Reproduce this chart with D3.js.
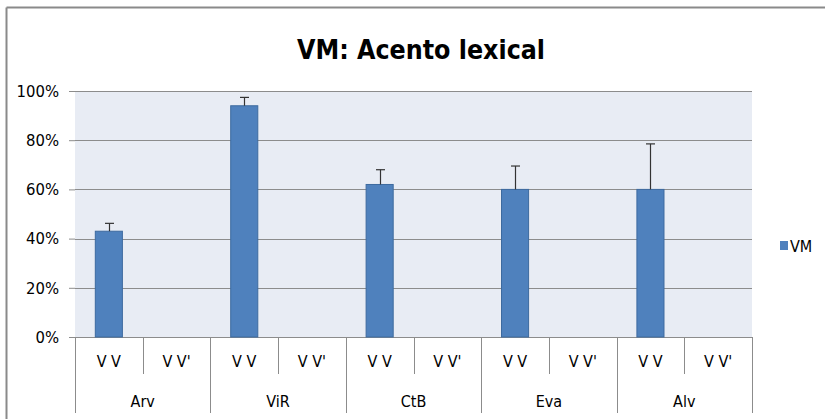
<!DOCTYPE html>
<html><head><meta charset="utf-8">
<script src="https://cdn.jsdelivr.net/npm/d3@7"></script>
<style>
body{margin:0;background:#fff;}
text{font-family:"DejaVu Sans Condensed","Open Sans",sans-serif;}
</style></head>
<body><svg id="c" width="825" height="419"></svg>
<script>
const title = "VM: Acento lexical";
const groups = ["Arv","ViR","CtB","Eva","Alv"];
const subcats = ["V V","V V'"];
const seriesName = "VM";
const valuesVV = [0.43,0.94,0.62,0.60,0.60];
const valuesVVp = [0,0,0,0,0];
const errUpVV = [0.032,0.034,0.06,0.095,0.185];
const yTicks = [0,0.2,0.4,0.6,0.8,1.0];

const svg = d3.select("#c");
const L=75, R=752, T=91, B=337;
const slots = [];
groups.forEach((g,gi)=>subcats.forEach((s,si)=>slots.push({g,s,gi,si,key:g+"|"+s,
  v: si===0?valuesVV[gi]:valuesVVp[gi], e: si===0?errUpVV[gi]:0})));
const x = d3.scaleBand().domain(slots.map(d=>d.key)).range([L,R]).padding(0);
const gx = d3.scaleBand().domain(groups).range([L,R]).padding(0);
const y = d3.scaleLinear().domain([0,1]).range([B,T]);

// frame (top & left)
svg.append("line").attr("x1",6.5).attr("x2",825).attr("y1",7.5).attr("y2",7.5).attr("stroke","#8a8a8a").attr("stroke-width",2);
svg.append("line").attr("x1",6.5).attr("x2",6.5).attr("y1",7.5).attr("y2",419).attr("stroke","#8a8a8a").attr("stroke-width",2);

svg.append("text").attr("x",421).attr("y",59).attr("text-anchor","middle")
  .style("font-size","26.5px").style("font-weight","bold").attr("fill","#000").text(title);

// plot bg
svg.append("rect").attr("x",L).attr("y",T).attr("width",R-L).attr("height",B-T).attr("fill","#e8ecf4");

// y axis
const ya = svg.append("g").attr("transform",`translate(${L},0)`)
  .call(d3.axisLeft(y).tickValues(yTicks).tickFormat(d3.format(".0%")).tickSize(6).tickPadding(10));
ya.select(".domain").remove();
ya.selectAll(".tick line").attr("stroke","#8c8c8c");
ya.selectAll(".tick text").style("font-size","16.5px").attr("fill","#000");
// gridlines
svg.append("g").selectAll("line").data(yTicks).join("line")
  .attr("x1",L).attr("x2",R).attr("y1",d=>Math.round(y(d))+0.5).attr("y2",d=>Math.round(y(d))+0.5)
  .attr("stroke","#8c8c8c").attr("stroke-width",1);

// bars
const bw = x.bandwidth()*0.4;
const bars = slots.filter(d=>d.v>0);
svg.append("g").selectAll("rect").data(bars).join("rect")
  .attr("x",d=>x(d.key)+x.bandwidth()/2-bw/2).attr("width",bw)
  .attr("y",d=>y(d.v)).attr("height",d=>B-y(d.v))
  .attr("fill","#4f81bd").attr("stroke","#3d6a9f").attr("stroke-width",1);
// error bars
const eg = svg.append("g").attr("stroke","#333").attr("stroke-width",1.2);
bars.forEach(d=>{
  const cx = Math.round(x(d.key)+x.bandwidth()/2)+0.5;
  eg.append("line").attr("x1",cx).attr("x2",cx).attr("y1",y(d.v)).attr("y2",y(d.v+d.e));
  eg.append("line").attr("x1",cx-4.5).attr("x2",cx+4.5).attr("y1",y(d.v+d.e)).attr("y2",y(d.v+d.e));
});

// category axis
const ca = svg.append("g").attr("stroke","#8c8c8c").attr("stroke-width",1);
slots.forEach(d=>{ if(d.si===1){ const xx=Math.round(x(d.key))+0.5; ca.append("line").attr("x1",xx).attr("x2",xx).attr("y1",B).attr("y2",374);} });
groups.concat(["__end"]).forEach((g,i)=>{ const xx=Math.round(i<groups.length?gx(g):R)+0.5; ca.append("line").attr("x1",xx).attr("x2",xx).attr("y1",B).attr("y2",413);});
svg.append("g").selectAll("text").data(slots).join("text")
  .attr("x",d=>x(d.key)+x.bandwidth()/2).attr("y",367).attr("text-anchor","middle")
  .style("font-size","16px").attr("fill","#000").text(d=>d.s);
svg.append("g").selectAll("text").data(groups).join("text")
  .attr("x",d=>gx(d)+gx.bandwidth()/2).attr("y",407).attr("text-anchor","middle")
  .style("font-size","16px").attr("fill","#000").text(d=>d);

// legend
svg.append("rect").attr("x",780).attr("y",241).attr("width",8).attr("height",9).attr("fill","#4f81bd");
svg.append("text").attr("x",790).attr("y",251.5).style("font-size","16px").attr("fill","#000").text(seriesName);
</script></body></html>
